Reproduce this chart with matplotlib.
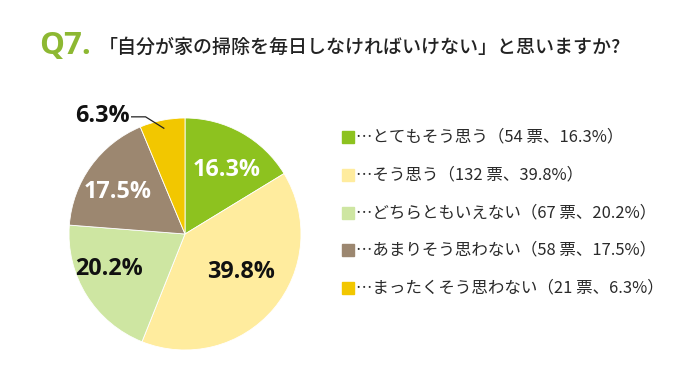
import numpy as np
import matplotlib
matplotlib.use("Agg")
import matplotlib.pyplot as plt

plt.rcParams['font.family'] = ['Noto Sans CJK JP', 'DejaVu Sans']

categories = ["とてもそう思う", "そう思う", "どちらともいえない", "あまりそう思わない", "まったくそう思わない"]
votes = [54, 132, 67, 58, 21]
percents = [16.3, 39.8, 20.2, 17.5, 6.3]
colors = ["#8DC21F", "#FFEC9E", "#CEE6A2", "#9C8770", "#F2C700"]
label_colors = ["white", "#111111", "#111111", "white", "#111111"]
title = "「自分が家の掃除を毎日しなければいけない」と思いますか?"

W, H = 680, 378
fig = plt.figure(figsize=(W / 100, H / 100), dpi=100)
fig.patch.set_facecolor("white")

num_font = ['Open Sans', 'DejaVu Sans']

# pie axes
cx, cy, R = 185, 234, 116
ax = fig.add_axes([(cx - R) / W, 1 - (cy + R) / H, 2 * R / W, 2 * R / H])
wedges, _ = ax.pie(percents, colors=colors, startangle=90, counterclock=False,
                   radius=1.0, wedgeprops=dict(linewidth=0.6, edgecolor="white"))
ax.set_xlim(-1, 1)
ax.set_ylim(-1, 1)
ax.set_aspect("equal")
ax.axis("off")

# inner labels (radius fraction and angle shift per label)
rad = [0.66, 0.58, 0.72, 0.68]
dang = [-4, 6, -7, 4]
for i in range(4):
    w = wedges[i]
    mid = np.deg2rad((w.theta1 + w.theta2) / 2 + dang[i])
    ax.text(rad[i] * np.cos(mid), rad[i] * np.sin(mid), f"{percents[i]}%",
            ha="center", va="center", fontsize=16.8, fontweight="bold",
            color=label_colors[i], family=num_font)

# outside label for the small slice
w = wedges[4]
mid = np.deg2rad((w.theta1 + w.theta2) / 2)
p = (0.93 * np.cos(mid), 0.93 * np.sin(mid))
ax.plot([p[0], -0.34, -0.46], [p[1], 1.01, 1.01], color="#222222", lw=0.9,
        clip_on=False)
ax.text(-0.48, 1.02, f"{percents[4]}%", ha="right", va="center", fontsize=16.8,
        fontweight="bold", color="#111111", family=num_font, clip_on=False)

# title
fig.text(39 / W, 1 - 46 / H, "Q7.", fontsize=22.5, fontweight="bold",
         color="#8DB832", va="center", ha="left", family=num_font)
fig.text(99 / W, 1 - 47 / H, title, fontsize=13.7, color="#222222",
         va="center", ha="left", fontweight="medium")

# legend
ys = [137, 175, 213, 250, 288]
for i in range(5):
    y = ys[i]
    fig.patches.append(plt.Rectangle((342 / W, 1 - (y + 6) / H), 12 / W, 12 / H,
                                     transform=fig.transFigure, color=colors[i]))
    fig.text(356 / W, 1 - y / H,
             f"…{categories[i]}（{votes[i]} 票、{percents[i]}%）",
             fontsize=11.9, color="#2a2a2a", va="center", ha="left")

fig.savefig("out.png", dpi=100)
